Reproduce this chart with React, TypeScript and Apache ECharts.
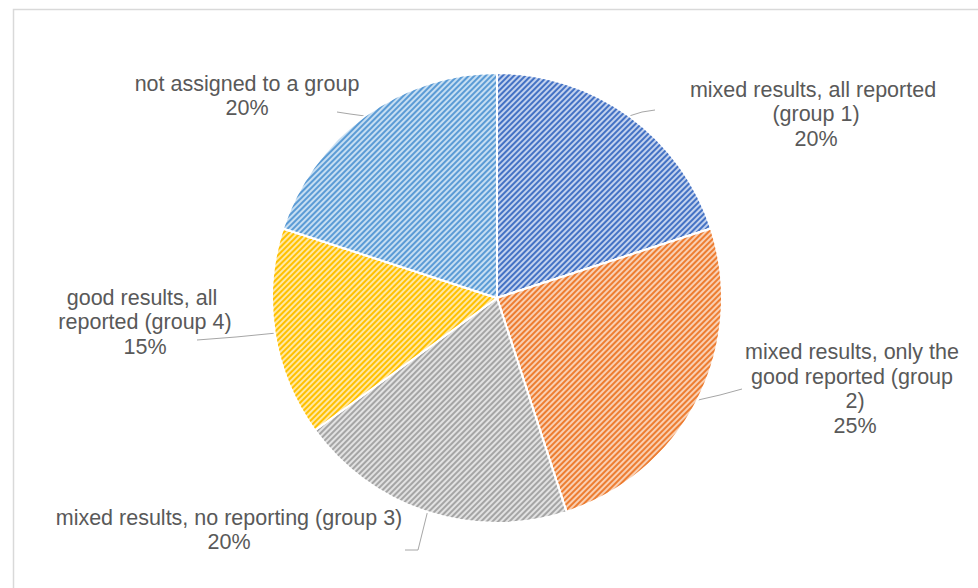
import React, { useEffect, useRef } from "react";
import * as echarts from "echarts";

const categories = [
  "mixed results, all reported (group 1)",
  "mixed results, only the good reported (group 2)",
  "mixed results, no reporting (group 3)",
  "good results, all reported (group 4)",
  "not assigned to a group",
];
const values = [20, 25, 20, 15, 20];

const stripeColors = ["#4472C4", "#ED7D31", "#A5A5A5", "#FFC000", "#5B9BD5"];
const baseColors = ["#c3d2ee", "#f9cfb2", "#e2e2e2", "#ffe8a3", "#c6def2"];

const labelLayouts = [
  { x: 816, y: 114, w: 255, mid: [642, 112], end: [655, 110] },
  { x: 855, y: 389, w: 220, mid: [720, 395], end: [742, 389] },
  { x: 229, y: 530, w: 400, mid: [418, 550], end: [405, 550] },
  { x: 145, y: 322, w: 178, mid: [236, 337], end: [197, 340] },
  { x: 247, y: 96, w: 245, mid: [350, 114], end: [337, 112] },
];

const CX = 497;
const CY = 298;
const R = 225;

export default function App() {
  const ref = useRef<HTMLDivElement>(null);
  useEffect(() => {
    document.body.style.margin = "0";
    const chart = echarts.init(ref.current!, null, { renderer: "svg" });
    const total = values.reduce((a, b) => a + b, 0);
    const edges: number[][] = [];
    let acc = 0;
    values.forEach((v) => {
      const mid = ((acc + v / 2) / total) * Math.PI * 2;
      edges.push([CX + R * Math.sin(mid), CY - R * Math.cos(mid)]);
      acc += v;
    });
    chart.setOption({
      animation: false,
      backgroundColor: "#ffffff",
      graphic: [
        {
          type: "rect",
          shape: { x: 13.5, y: 9.5, width: 1200, height: 1200 },
          style: { fill: "none", stroke: "#d9d9d9", lineWidth: 1.5 },
          silent: true,
        },
      ],
      series: [
        {
          type: "pie",
          center: [CX, CY],
          radius: R,
          startAngle: 90,
          clockwise: true,
          avoidLabelOverlap: false,
          itemStyle: { borderColor: "#ffffff", borderWidth: 2 },
          label: {
            show: true,
            position: "outside",
            color: "#595959",
            fontFamily: "Liberation Sans, Arial, sans-serif",
            fontSize: 21.5,
            lineHeight: 24.5,
            align: "center",
            overflow: "break",
            formatter: (p: any) => `${p.name}\n${Math.round(p.percent)}%`,
          },
          labelLine: {
            show: true,
            lineStyle: { color: "#a6a6a6", width: 1 },
          },
          labelLayout: (p: any) => {
            const l = labelLayouts[p.dataIndex];
            return {
              x: l.x,
              y: l.y,
              align: "center",
              verticalAlign: "middle",
              labelLinePoints: [edges[p.dataIndex], l.mid, l.end],
            };
          },
          data: categories.map((name, i) => ({
            name,
            value: values[i],
            label: { width: labelLayouts[i].w },
            itemStyle: {
              color: baseColors[i],
              decal: {
                symbol: "rect",
                symbolSize: 1,
                dashArrayX: [1, 0],
                dashArrayY: [2, 2],
                rotation: -Math.PI / 4,
                color: stripeColors[i],
              },
            },
          })),
        },
      ],
    });
    return () => chart.dispose();
  }, []);
  return <div ref={ref} style={{ width: 978, height: 588 }} />;
}
